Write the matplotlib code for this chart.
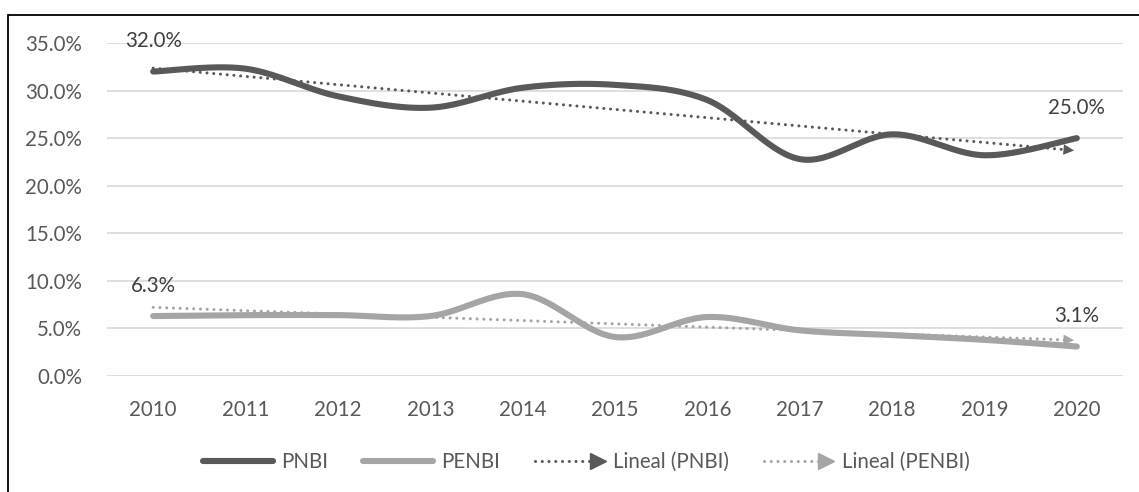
import numpy as np
import matplotlib
matplotlib.use("Agg")
from matplotlib import pyplot as plt
from matplotlib.lines import Line2D
from matplotlib.patches import Rectangle
from matplotlib.legend_handler import HandlerBase
from matplotlib.ticker import FuncFormatter

# data (share, %)
years = ["2010", "2011", "2012", "2013", "2014", "2015", "2016", "2017", "2018", "2019", "2020"]
pnbi = [32.0, 32.3, 29.4, 28.2, 30.3, 30.6, 29.0, 22.8, 25.4, 23.2, 25.0]
penbi = [6.3, 6.4, 6.4, 6.3, 8.6, 4.1, 6.2, 4.8, 4.3, 3.8, 3.1]

dark = "#595959"
light = "#A5A5A5"
txt = "#595959"
fs = 14.8
plt.rcParams['font.family'] = ['Lato', 'DejaVu Sans']


def smooth(x, y, n=30):
    # bezier smoothing like the spreadsheet "smoothed line"
    x = np.asarray(x, float)
    y = np.asarray(y, float)
    px, py = [], []
    for i in range(len(x) - 1):
        x0, y0 = (x[i - 1], y[i - 1]) if i > 0 else (x[i], y[i])
        x3, y3 = (x[i + 2], y[i + 2]) if i + 2 < len(x) else (x[i + 1], y[i + 1])
        c1x = x[i] + (x[i + 1] - x0) / 6
        c1y = y[i] + (y[i + 1] - y0) / 6
        c2x = x[i + 1] - (x3 - x[i]) / 6
        c2y = y[i + 1] - (y3 - y[i]) / 6
        t = np.linspace(0, 1, n)
        px.extend((1 - t) ** 3 * x[i] + 3 * (1 - t) ** 2 * t * c1x + 3 * (1 - t) * t ** 2 * c2x + t ** 3 * x[i + 1])
        py.extend((1 - t) ** 3 * y[i] + 3 * (1 - t) ** 2 * t * c1y + 3 * (1 - t) * t ** 2 * c2y + t ** 3 * y[i + 1])
    return np.array(px), np.array(py)


class ArrowLineHandler(HandlerBase):
    def create_artists(self, legend, orig_handle, xdescent, ydescent, width, height, fontsize, trans):
        y = height / 2 - ydescent
        c = orig_handle.get_color()
        line = Line2D([-xdescent, width - xdescent - 9], [y, y], color=c, lw=2.2,
                      dashes=(0.01, 2.2), dash_capstyle='round')
        head = Line2D([width - xdescent - 5], [y], marker='>', ms=11, color=c, mec=c)
        line.set_transform(trans)
        head.set_transform(trans)
        return [line, head]


fig = plt.figure(figsize=(11.39, 4.92), dpi=100)
ax = fig.add_axes([107 / 1139, 1 - 376 / 492, (1123 - 107) / 1139, (376 - 43) / 492])

x = np.arange(len(years))
for vals, col in [(pnbi, dark), (penbi, light)]:
    sx, sy = smooth(x, vals)
    ax.plot(sx, sy, color=col, lw=4.4, solid_capstyle='round', zorder=3)
    k, b = np.polyfit(x, vals, 1)
    x0, x1 = x[0], x[-1]
    ax.plot([x0, x1 - 0.12], [k * x0 + b, k * (x1 - 0.12) + b], color=col, lw=2.2,
            dashes=(0.01, 2.2), dash_capstyle='round', zorder=4)
    ax.annotate('', xy=(x1, k * x1 + b), xytext=(x1 - 0.2, k * (x1 - 0.2) + b),
                arrowprops=dict(arrowstyle='-|>', color=col, lw=0, mutation_scale=19), zorder=4)
    for i in (0, len(vals) - 1):
        ax.annotate(f"{vals[i]:.1f}%", (x[i], vals[i]), xytext=(0, 22), textcoords='offset points',
                    ha='center', va='center', fontsize=fs, color="#404040")

ax.set_xlim(-0.5, len(years) - 0.5)
ax.set_ylim(0, 35)
ax.set_yticks(np.arange(0, 36, 5))
ax.yaxis.set_major_formatter(FuncFormatter(lambda v, p: f"{v:.1f}%"))
ax.set_xticks(x)
ax.set_xticklabels(years)
ax.tick_params(length=0, labelsize=fs, labelcolor=txt, pad=17)
ax.tick_params(axis='y', pad=18)
ax.grid(axis='y', color='#D9D9D9', lw=1.2)
ax.set_axisbelow(True)
for s in ax.spines.values():
    s.set_visible(False)

handles = [Line2D([], [], color=dark, lw=4.4, solid_capstyle='round'),
           Line2D([], [], color=light, lw=4.4, solid_capstyle='round'),
           Line2D([], [], color=dark),
           Line2D([], [], color=light)]
labels = ["PNBI", "PENBI", "Lineal (PNBI)", "Lineal (PENBI)"]
hm = {handles[2]: ArrowLineHandler(), handles[3]: ArrowLineHandler()}
fig.legend(handles, labels, handler_map=hm, loc='center', bbox_to_anchor=(586 / 1139, 1 - 462 / 492),
           ncol=4, frameon=False, fontsize=fs, labelcolor=txt, handlelength=3.4,
           handletextpad=0.4, columnspacing=1.7)

fig.add_artist(Rectangle((7.5 / 1139, -0.1), 1.2, 1 - 14.5 / 492 + 0.1, transform=fig.transFigure,
                         fill=False, edgecolor='black', lw=1.3, clip_on=False))

fig.savefig("out.png", dpi=100)
